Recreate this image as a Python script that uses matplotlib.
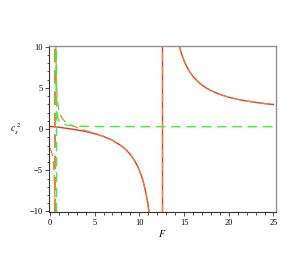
import matplotlib
matplotlib.use("Agg")
import matplotlib.pyplot as plt
from matplotlib.ticker import MultipleLocator

# red curve (two branches around the pole at F = 12.5)
red_pole = 12.5
red_left_F = [0, 1, 2, 3, 4, 5, 6, 7, 8, 8.5, 9, 9.5, 9.8, 10, 10.2, 10.4, 10.6,
              10.8, 10.95, 11.05, 11.2]
red_left_y = [0.32, 0.21, 0.07, -0.10, -0.30, -0.56, -0.90, -1.37, -2.04, -2.50, -3.09,
              -3.88, -4.50, -4.99, -5.57, -6.25, -7.09, -8.1, -9.0, -9.8, -11.2]
red_right_F = [14.4, 14.5, 14.7, 14.9, 15.1, 15.3, 15.6, 16, 16.5, 17, 17.5, 18, 19,
               20, 21, 22, 23, 24, 25]
red_right_y = [10.4, 9.95, 9.20, 8.57, 8.03, 7.58, 7.00, 6.39, 5.80, 5.34, 4.97, 4.67,
               4.20, 3.86, 3.60, 3.40, 3.23, 3.09, 2.98]

# orange dashed curve, pole near F = 0.62, joins the red one further on
orange_pole = 0.62
orange_left_F = [0, 0.2, 0.35, 0.45, 0.52, 0.57, 0.6]
orange_left_y = [-2.3, -2.8, -3.6, -5.0, -7.0, -10.0, -15.0]
orange_right_F = [0.64, 0.67, 0.72, 0.8, 0.9, 1.0, 1.3, 1.7, 2.2, 3, 4, 5, 6, 7, 8, 8.5,
                  9, 9.5, 9.8, 10, 10.2, 10.4, 10.6, 10.8, 10.95, 11.05, 11.2]
orange_right_y = [15, 10, 6, 4, 3, 2.3, 1.4, 0.9, 0.55, 0.2, -0.2, -0.5, -0.9, -1.37,
                  -2.04, -2.50, -3.09, -3.88, -4.50, -4.99, -5.57, -6.25, -7.09, -8.1,
                  -9.0, -9.8, -11.2]

# green dashed curve
green_pole = 0.64
green_left_F = [0.55, 0.6, 0.63]
green_left_y = [-15, -10, -20]
green_right_F = [0.66, 0.7, 0.8, 0.9, 1.0, 1.2, 1.5, 2, 3, 5, 10, 15, 20, 25]
green_right_y = [15, 4.3, 2.0, 1.3, 1.05, 0.8, 0.6, 0.45, 0.35, 0.3, 0.29, 0.28, 0.28, 0.28]

red = "#f2302a"
orange = "#d98b3a"
green = "#3cf03c"

plt.rcParams["font.family"] = ["Liberation Serif", "DejaVu Serif"]
plt.rcParams["mathtext.fontset"] = "stix"
fig = plt.figure(figsize=(3.0, 2.73), dpi=100)
ax = fig.add_axes([0.163, 0.2223, 0.756, 0.610])

ax.plot(red_left_F, red_left_y, color=red, lw=1.0)
ax.plot(red_right_F, red_right_y, color=red, lw=1.0)
ax.axvline(red_pole, color=red, lw=1.0)

dash = (0, (7, 4))
ax.plot(orange_left_F, orange_left_y, color=orange, lw=0.9, linestyle=dash)
ax.plot(orange_right_F, orange_right_y, color=orange, lw=0.9, linestyle=dash)
ax.plot(red_right_F, red_right_y, color=orange, lw=0.9, linestyle=dash)
ax.axvline(orange_pole, color=orange, lw=1.4, linestyle=dash)
ax.axvline(red_pole, color=orange, lw=0.9, linestyle=dash)

ax.plot(green_left_F, green_left_y, color=green, lw=1.0, linestyle=dash)
ax.plot(green_right_F, green_right_y, color=green, lw=1.0, linestyle=dash)
ax.axvline(green_pole, color=green, lw=1.0, linestyle=dash)

ax.set_xlim(-0.11, 25.25)
ax.set_ylim(-10.1, 10.1)
ax.xaxis.set_major_locator(MultipleLocator(5))
ax.xaxis.set_minor_locator(MultipleLocator(1))
ax.yaxis.set_major_locator(MultipleLocator(5))
ax.yaxis.set_minor_locator(MultipleLocator(1))
ax.tick_params(which="both", direction="out", labelsize=6, pad=1.5, width=0.6, color="#333333")
ax.tick_params(which="major", length=3)
ax.tick_params(which="minor", length=1.8)

for side in ["left", "bottom"]:
    ax.spines[side].set_color("#333333")
    ax.spines[side].set_linewidth(0.8)
for side in ["top", "right"]:
    ax.spines[side].set_color("#909090")
    ax.spines[side].set_linewidth(1.0)

ax.set_xlabel("$F$", fontsize=7, labelpad=1)
ax.set_ylabel("$c_s^{\\ 2}$", fontsize=7, rotation=0, labelpad=10, va="center")

fig.savefig("out.png", dpi=100)
